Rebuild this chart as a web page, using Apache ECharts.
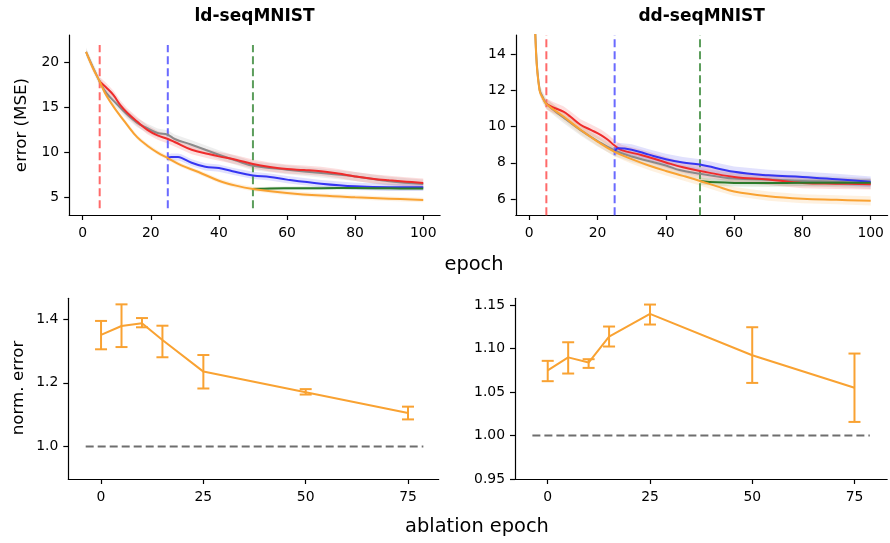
<!DOCTYPE html>
<html>
<head>
<meta charset="utf-8">
<script src="https://cdn.jsdelivr.net/npm/echarts@6/dist/echarts.min.js"></script>
<style>
  html, body { margin: 0; padding: 0; background: #fff; }
  #chart { width: 890px; height: 543px; }
</style>
</head>
<body>
<div id="chart"></div>
<script>
// ---- top row: error (MSE) over training epochs, mean of runs ----
// ld-seqMNIST
const ldGrayEpoch = [1, 3, 5, 7, 10, 13, 16, 19, 22, 25, 27, 32, 40, 45, 50, 60, 70, 80, 90, 100];
const ldGray = [21.2, 19.5, 17.9, 16.6, 15.4, 14.25, 13.3, 12.7, 12.16, 11.97, 11.5, 10.86, 9.74, 9.1, 8.52, 8.08, 7.7, 7.33, 6.78, 6.48];
const ldRedEpoch = [5, 7, 9, 11, 13, 16, 19, 22, 25, 27, 32, 37, 40, 45, 50, 55, 60, 65, 70, 75, 80, 85, 90, 95, 100];
const ldRed = [17.9, 17.2, 16.4, 15.3, 14.45, 13.44, 12.52, 11.9, 11.49, 11.16, 10.3, 9.82, 9.56, 9.19, 8.71, 8.38, 8.15, 8.04, 7.9, 7.64, 7.33, 7.07, 6.89, 6.74, 6.6];
const ldBlueEpoch = [25, 26, 28, 29, 32, 36, 40, 44, 50, 55, 60, 70, 80, 90, 100];
const ldBlue = [9.37, 9.49, 9.49, 9.4, 8.85, 8.4, 8.26, 7.9, 7.44, 7.26, 6.97, 6.52, 6.22, 6.11, 6.11];
const ldGreenEpoch = [50, 55, 60, 70, 80, 90, 100];
const ldGreen = [5.93, 5.98, 6.0, 6.02, 6.03, 6.0, 5.98];
const ldOrangeEpoch = [1, 3, 5, 7, 10, 13, 16, 19, 22, 25, 29, 34, 40, 45, 50, 60, 70, 80, 90, 100];
const ldOrange = [21.2, 19.4, 17.9, 16.3, 14.6, 13.1, 11.7, 10.75, 9.98, 9.37, 8.56, 7.82, 6.85, 6.3, 5.93, 5.49, 5.19, 5.0, 4.85, 4.7];
// spread across runs: gray, red, blue, green, orange
const ldSpread = [0.5, 0.5, 0.4, 0.2, 0.25];

// dd-seqMNIST
const ddGrayEpoch = [1, 2, 3, 4, 5, 10, 15, 20, 25, 30, 40, 44, 50, 60, 70, 80, 90, 100];
const ddGray = [20, 14.1, 12.05, 11.6, 11.25, 10.5, 9.8, 9.2, 8.68, 8.35, 7.85, 7.6, 7.4, 7.13, 7.08, 7.0, 6.95, 6.86];
const ddRedEpoch = [5, 7, 10, 12, 15, 18, 21, 23, 25, 27, 33, 40, 45, 50, 60, 70, 80, 90, 100];
const ddRed = [11.25, 11.05, 10.82, 10.55, 10.1, 9.82, 9.53, 9.27, 8.95, 8.7, 8.42, 8.02, 7.75, 7.55, 7.22, 7.08, 6.89, 6.85, 6.82];
const ddBlueEpoch = [25, 26, 30, 35, 40, 45, 50, 60, 70, 80, 90, 100];
const ddBlue = [8.6, 8.8, 8.72, 8.45, 8.2, 8.02, 7.9, 7.5, 7.31, 7.22, 7.09, 6.95];
const ddGreenEpoch = [50, 55, 60, 70, 80, 90, 100];
const ddGreen = [7.0, 6.92, 6.89, 6.88, 6.9, 6.9, 6.9];
const ddOrangeEpoch = [1, 2, 3, 4, 5, 10, 15, 20, 25, 30, 35, 40, 45, 50, 55, 60, 70, 80, 90, 100];
const ddOrange = [20, 14.0, 12.0, 11.55, 11.25, 10.55, 9.82, 9.17, 8.6, 8.2, 7.85, 7.55, 7.28, 7.0, 6.7, 6.42, 6.16, 6.02, 5.96, 5.9];
const ddSpread = [0.3, 0.3, 0.3, 0.2, 0.25];

const ablateAt = [5, 25, 50];
const ldVlineSpan = [3.78, 21.97];
const ddVlineSpan = [5.1, 15.05];

// ---- bottom row: normalised error vs ablation epoch ----
const ablationEpochs = [0, 5, 10, 15, 25, 50, 75];
const ldNorm = [1.35, 1.378, 1.387, 1.334, 1.235, 1.17, 1.105];
const ldNormLo = [1.305, 1.312, 1.374, 1.28, 1.182, 1.163, 1.085];
const ldNormHi = [1.394, 1.446, 1.403, 1.379, 1.287, 1.18, 1.125];
const ddNorm = [1.075, 1.09, 1.084, 1.114, 1.14, 1.0925, 1.055];
const ddNormLo = [1.0626, 1.0714, 1.0779, 1.1025, 1.1278, 1.0606, 1.0157];
const ddNormHi = [1.086, 1.1074, 1.0879, 1.1255, 1.1508, 1.1247, 1.0944];
const refSpan = [-3.75, 78.75];

const epochTicks = [0, 20, 40, 60, 80, 100];
const ablationTicks = [0, 25, 50, 75];
const ldTicks = [5, 10, 15, 20];
const ddTicks = [6, 8, 10, 12, 14];
const ldNormTicks = [1.0, 1.2, 1.4];
const ddNormTicks = [0.95, 1.0, 1.05, 1.1, 1.15];

const FONT = 'DejaVu Sans';
const C_GRAY = '#8a8a8a';
const C_RED = '#ef2b2b';
const C_BLUE = '#3535f2';
const C_GREEN = '#2b7a2b';
const C_ORANGE = '#f9a232';
const VLINE_COLORS = ['#ff6a6a', '#6a6aff', '#5c9e5c'];

function xAxis(gi, min, max, ticks) {
  return {
    type: 'value', gridIndex: gi, min: min, max: max,
    splitLine: { show: false },
    axisLine: { onZero: false, lineStyle: { color: '#000', width: 1.2 } },
    axisTick: { customValues: ticks, length: 5, lineStyle: { color: '#000', width: 1.2 } },
    axisLabel: { customValues: ticks, margin: 11, color: '#000', fontSize: 13.9, fontFamily: FONT }
  };
}

function yAxis(gi, min, max, ticks, digits) {
  return {
    type: 'value', gridIndex: gi, min: min, max: max,
    splitLine: { show: false },
    axisLine: { show: true, onZero: false, lineStyle: { color: '#000', width: 1.2 } },
    axisTick: { show: true, customValues: ticks, length: 5, lineStyle: { color: '#000', width: 1.2 } },
    axisLabel: {
      customValues: ticks, margin: 10, color: '#000', fontSize: 13.9, fontFamily: FONT,
      formatter: (v) => v.toFixed(digits)
    }
  };
}

function band(gi, epochs, mean, sd, color) {
  return {
    type: 'custom', xAxisIndex: gi, yAxisIndex: gi, silent: true, z: 1, clip: true,
    data: epochs.map((e, i) => [e, mean[i] - sd, mean[i] + sd]),
    encode: { x: 0, y: [1, 2] },
    renderItem: function (params, api) {
      if (params.dataIndex !== 0) {
        return null;
      }
      let upper = [];
      let lower = [];
      epochs.forEach((e, i) => {
        upper.push(api.coord([e, mean[i] + sd]));
        lower.push(api.coord([e, mean[i] - sd]));
      });
      let cs = params.coordSys;
      return {
        type: 'polygon',
        shape: { points: upper.concat(lower.reverse()) },
        style: { fill: color, opacity: 0.15 },
        clipPath: { type: 'rect', shape: { x: cs.x, y: cs.y, width: cs.width, height: cs.height } }
      };
    }
  };
}

function curve(gi, epochs, vals, color) {
  return {
    type: 'line', xAxisIndex: gi, yAxisIndex: gi, silent: true, z: 3,
    data: epochs.map((e, i) => [e, vals[i]]),
    symbol: 'none', smooth: 0.4,
    lineStyle: { color: color, width: 2 }
  };
}

function vline(gi, x, span, color) {
  return {
    type: 'line', xAxisIndex: gi, yAxisIndex: gi, silent: true, z: 2,
    data: [[x, span[0]], [x, span[1]]],
    symbol: 'none',
    lineStyle: { color: color, width: 2, type: [8, 4] }
  };
}

function errorBars(gi, lo, hi) {
  return {
    type: 'custom', xAxisIndex: gi, yAxisIndex: gi, silent: true, z: 4,
    data: ablationEpochs.map((e, i) => [e, lo[i], hi[i]]),
    encode: { x: 0, y: [1, 2] },
    renderItem: function (params, api) {
      let x = api.value(0);
      let top = api.coord([x, api.value(2)]);
      let bot = api.coord([x, api.value(1)]);
      let cap = 6;
      let st = { stroke: C_ORANGE, lineWidth: 2 };
      return {
        type: 'group',
        children: [
          { type: 'line', shape: { x1: top[0], y1: top[1], x2: bot[0], y2: bot[1] }, style: st },
          { type: 'line', shape: { x1: top[0] - cap, y1: top[1], x2: top[0] + cap, y2: top[1] }, style: st },
          { type: 'line', shape: { x1: bot[0] - cap, y1: bot[1], x2: bot[0] + cap, y2: bot[1] }, style: st }
        ]
      };
    }
  };
}

function panelSeries(gi, sets, spread, span) {
  let colors = [C_GRAY, C_RED, C_BLUE, C_GREEN, C_ORANGE];
  let out = [];
  sets.forEach((s, k) => out.push(band(gi, s[0], s[1], spread[k], colors[k])));
  ablateAt.forEach((x, k) => out.push(vline(gi, x, span, VLINE_COLORS[k])));
  sets.forEach((s, k) => out.push(curve(gi, s[0], s[1], colors[k])));
  return out;
}

function normSeries(gi, mean, lo, hi) {
  return [
    {
      type: 'line', xAxisIndex: gi, yAxisIndex: gi, silent: true, z: 2,
      data: refSpan.map((x) => [x, 1.0]), symbol: 'none',
      lineStyle: { color: '#6e6e6e', width: 2, type: [8, 4] }
    },
    errorBars(gi, lo, hi),
    {
      type: 'line', xAxisIndex: gi, yAxisIndex: gi, silent: true, z: 3,
      data: ablationEpochs.map((e, i) => [e, mean[i]]), symbol: 'none',
      lineStyle: { color: C_ORANGE, width: 2 }
    }
  ];
}

function label(text, x, y, size, opts) {
  return Object.assign({
    type: 'text', x: x, y: y, silent: true,
    style: {
      text: text, fill: '#000', fontSize: size, fontFamily: FONT,
      align: 'center', verticalAlign: 'middle',
      textAlign: 'center', textVerticalAlign: 'middle'
    }
  }, opts || {});
}

let chart = echarts.init(document.getElementById('chart'), null, { renderer: 'canvas' });

let titleA = label('ld-seqMNIST', 254.6, 17, 17);
titleA.style.fontWeight = 'bold';
let titleB = label('dd-seqMNIST', 701.7, 17, 17);
titleB.style.fontWeight = 'bold';

chart.setOption({
  animation: false,
  backgroundColor: '#fff',
  grid: [
    { left: 69.2, top: 35, width: 370.9, height: 180 },
    { left: 515.8, top: 35, width: 371.8, height: 180 },
    { left: 68.3, top: 298.3, width: 370.4, height: 180.7 },
    { left: 515, top: 298.3, width: 372.2, height: 180.7 }
  ],
  xAxis: [
    xAxis(0, -3.95, 104.95, epochTicks),
    xAxis(1, -3.95, 104.95, epochTicks),
    xAxis(2, -8, 82.5, ablationTicks),
    xAxis(3, -8, 83, ablationTicks)
  ],
  yAxis: [
    yAxis(0, 3.03, 23.08, ldTicks, 0),
    yAxis(1, 5.12, 15.05, ddTicks, 0),
    yAxis(2, 0.898, 1.465, ldNormTicks, 1),
    yAxis(3, 0.95, 1.158, ddNormTicks, 2)
  ],
  graphic: [
    titleA,
    titleB,
    label('error (MSE)', 22, 125, 16.7, { rotation: Math.PI / 2 }),
    label('norm. error', 19, 388, 16.7, { rotation: Math.PI / 2 }),
    label('epoch', 474, 265, 19.4),
    label('ablation epoch', 477, 527, 19.4)
  ],
  series: [].concat(
    panelSeries(0, [[ldGrayEpoch, ldGray], [ldRedEpoch, ldRed], [ldBlueEpoch, ldBlue], [ldGreenEpoch, ldGreen], [ldOrangeEpoch, ldOrange]], ldSpread, ldVlineSpan),
    panelSeries(1, [[ddGrayEpoch, ddGray], [ddRedEpoch, ddRed], [ddBlueEpoch, ddBlue], [ddGreenEpoch, ddGreen], [ddOrangeEpoch, ddOrange]], ddSpread, ddVlineSpan),
    normSeries(2, ldNorm, ldNormLo, ldNormHi),
    normSeries(3, ddNorm, ddNormLo, ddNormHi)
  )
});
</script>
</body>
</html>
